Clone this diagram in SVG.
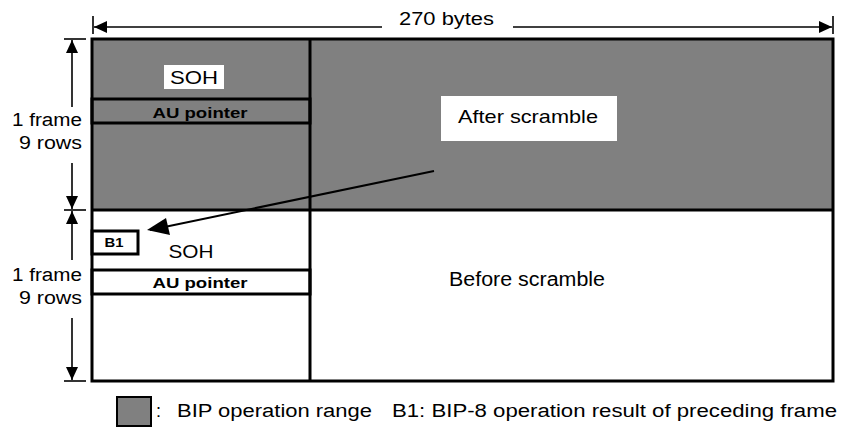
<svg xmlns="http://www.w3.org/2000/svg" width="841" height="427" viewBox="0 0 841 427">
<defs>
<style>
.t{font-family:"Liberation Sans",Arial,sans-serif;fill:#000}
.b{font-family:"Liberation Sans",Arial,sans-serif;font-weight:bold;fill:#000}
.thick{stroke:#000;stroke-width:3;fill:none}
.dim{stroke:#000;stroke-width:1.6;fill:none}
.gray{fill:#808080}
</style>
<marker id="ah" markerWidth="13" markerHeight="12" refX="13" refY="6" orient="auto" markerUnits="userSpaceOnUse" viewBox="0 0 13 12">
<path d="M0,0 L13,6 L0,12 Z" fill="#000"/>
</marker>
</defs>
<rect width="841" height="427" fill="#fff"/>

<g id="frame-after">
<rect x="92" y="39" width="741" height="171" class="gray"/>
<rect x="164" y="65" width="60" height="24" fill="#fff"/>
<text x="194" y="84" class="t" font-size="19" text-anchor="middle" textLength="48" lengthAdjust="spacingAndGlyphs">SOH</text>
<rect x="92" y="99" width="218" height="24" class="thick"/>
<text x="200" y="118" class="b" font-size="15" text-anchor="middle" textLength="95" lengthAdjust="spacingAndGlyphs">AU pointer</text>
<rect x="441" y="96" width="176" height="45" fill="#fff"/>
<text x="458" y="123" class="t" font-size="19" textLength="140" lengthAdjust="spacingAndGlyphs">After scramble</text>
</g>

<g id="frame-before">
<rect x="92" y="231" width="46" height="23" class="thick" fill="#fff"/>
<text x="114" y="247" class="b" font-size="13" text-anchor="middle" textLength="19" lengthAdjust="spacingAndGlyphs">B1</text>
<text x="191" y="258" class="t" font-size="19" text-anchor="middle" textLength="45" lengthAdjust="spacingAndGlyphs">SOH</text>
<rect x="92" y="270" width="218" height="24" class="thick"/>
<text x="200" y="288" class="b" font-size="15" text-anchor="middle" textLength="95" lengthAdjust="spacingAndGlyphs">AU pointer</text>
<text x="449" y="286" class="t" font-size="20" textLength="156" lengthAdjust="spacingAndGlyphs">Before scramble</text>
</g>

<g id="grid">
<rect x="92" y="39" width="741" height="342" class="thick"/>
<line x1="92" y1="210" x2="833" y2="210" class="thick"/>
<line x1="310" y1="39" x2="310" y2="381" class="thick"/>
</g>

<g id="width-dimension">
<line x1="93" y1="16" x2="93" y2="34" class="dim"/>
<line x1="833" y1="16" x2="833" y2="34" class="dim"/>
<line x1="382" y1="27" x2="94" y2="27" class="dim" marker-end="url(#ah)"/>
<line x1="513" y1="27" x2="832" y2="27" class="dim" marker-end="url(#ah)"/>
<text x="399" y="25" class="t" font-size="18" textLength="95" lengthAdjust="spacingAndGlyphs">270 bytes</text>
</g>

<g id="height-dimension">
<line x1="64" y1="39" x2="86" y2="39" class="dim"/>
<line x1="64" y1="210" x2="86" y2="210" class="dim"/>
<line x1="64" y1="381" x2="86" y2="381" class="dim"/>
<line x1="72" y1="107" x2="72" y2="40" class="dim" marker-end="url(#ah)"/>
<line x1="72" y1="163" x2="72" y2="209" class="dim" marker-end="url(#ah)"/>
<line x1="72" y1="260" x2="72" y2="211" class="dim" marker-end="url(#ah)"/>
<line x1="72" y1="318" x2="72" y2="380" class="dim" marker-end="url(#ah)"/>
<text x="82" y="126" class="t" font-size="18" text-anchor="end" textLength="70" lengthAdjust="spacingAndGlyphs">1 frame</text>
<text x="82" y="149" class="t" font-size="18" text-anchor="end" textLength="63" lengthAdjust="spacingAndGlyphs">9 rows</text>
<text x="82" y="281" class="t" font-size="18" text-anchor="end" textLength="70" lengthAdjust="spacingAndGlyphs">1 frame</text>
<text x="82" y="304" class="t" font-size="18" text-anchor="end" textLength="63" lengthAdjust="spacingAndGlyphs">9 rows</text>
</g>

<g id="connectors">
<line x1="434" y1="171" x2="150" y2="230" stroke="#000" stroke-width="2"/>
<path d="M147,230 L166,218 L170,235 Z" fill="#000"/>
</g>

<g id="legend">
<rect x="117" y="397" width="34" height="29" class="gray" stroke="#000" stroke-width="2"/>
<text x="156" y="417" class="t" font-size="18">:</text>
<text x="177" y="417" class="t" font-size="18" textLength="195" lengthAdjust="spacingAndGlyphs">BIP operation range</text>
<text x="392" y="417" class="t" font-size="18" textLength="445" lengthAdjust="spacingAndGlyphs">B1:  BIP-8 operation result of preceding frame</text>
</g>
</svg>
